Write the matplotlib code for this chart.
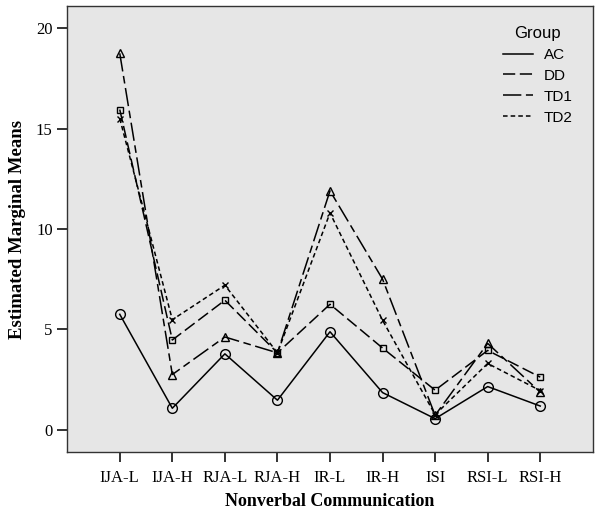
import numpy as np
import matplotlib.pyplot as plt

categories = ["IJA-L", "IJA-H", "RJA-L", "RJA-H", "IR-L", "IR-H", "ISI", "RSI-L", "RSI-H"]

ac = [5.75, 1.07, 3.78, 1.47, 4.88, 1.85, 0.55, 2.15, 1.18]
dd = [15.95, 4.47, 6.45, 3.83, 6.25, 4.07, 1.97, 3.95, 2.62]
td1 = [18.75, 2.75, 4.62, 3.83, 11.9, 7.5, 0.72, 4.3, 1.87]
td2 = [15.5, 5.48, 7.2, 3.83, 10.8, 5.45, 0.75, 3.3, 1.95]

group_names = ["AC", "DD", "TD1", "TD2"]

serif = "Liberation Serif"
sans = "Liberation Sans"

fig = plt.figure(figsize=(6.0, 5.14), dpi=100)
ax = fig.add_axes([0.112, 0.121, 0.876, 0.867])
ax.set_facecolor("#e6e6e6")

x = np.arange(len(categories))
series = [ac, dd, td1, td2]
markers = ["o", "s", "^", "x"]
msizes = [7, 5, 6, 5]
dashes = [None, (8, 3), (12, 3, 5, 3), (3, 2)]

for vals, name, m, ms, d in zip(series, group_names, markers, msizes, dashes):
    line, = ax.plot(x, vals, color="black", lw=1.1, marker=m, ms=ms,
                    mfc="none", mec="black", mew=1.0, label=name)
    if d is not None:
        line.set_dashes(d)

ax.set_xlim(-1, 9)
ax.set_ylim(-1.1, 21.1)
ax.set_xticks(x)
ax.set_xticklabels(categories, fontfamily=serif, fontsize=12)
ax.set_yticks([0, 5, 10, 15, 20])
ax.set_yticklabels(["0", "5", "10", "15", "20"], fontfamily=serif, fontsize=12)
ax.tick_params(direction="out", length=7, width=1.2, color="#111111")
ax.tick_params(axis="x", pad=6)

for s in ax.spines.values():
    s.set_color("#333333")
    s.set_linewidth(1.0)

ax.set_xlabel("Nonverbal Communication", fontfamily=serif, fontweight="bold",
              fontsize=13, labelpad=5)
ax.set_ylabel("Estimated Marginal Means", fontfamily=serif, fontweight="bold",
              fontsize=13.5, labelpad=7)

leg = ax.legend(title="Group", loc="upper right", frameon=False,
                prop={"family": sans, "size": 11}, handlelength=2.0,
                borderaxespad=0.9, labelspacing=0.45, handletextpad=0.7)
leg.get_title().set_fontfamily(sans)
leg.get_title().set_fontsize(12)
for h in leg.legend_handles:
    h.set_marker("")

fig.savefig("out.png", dpi=100)
